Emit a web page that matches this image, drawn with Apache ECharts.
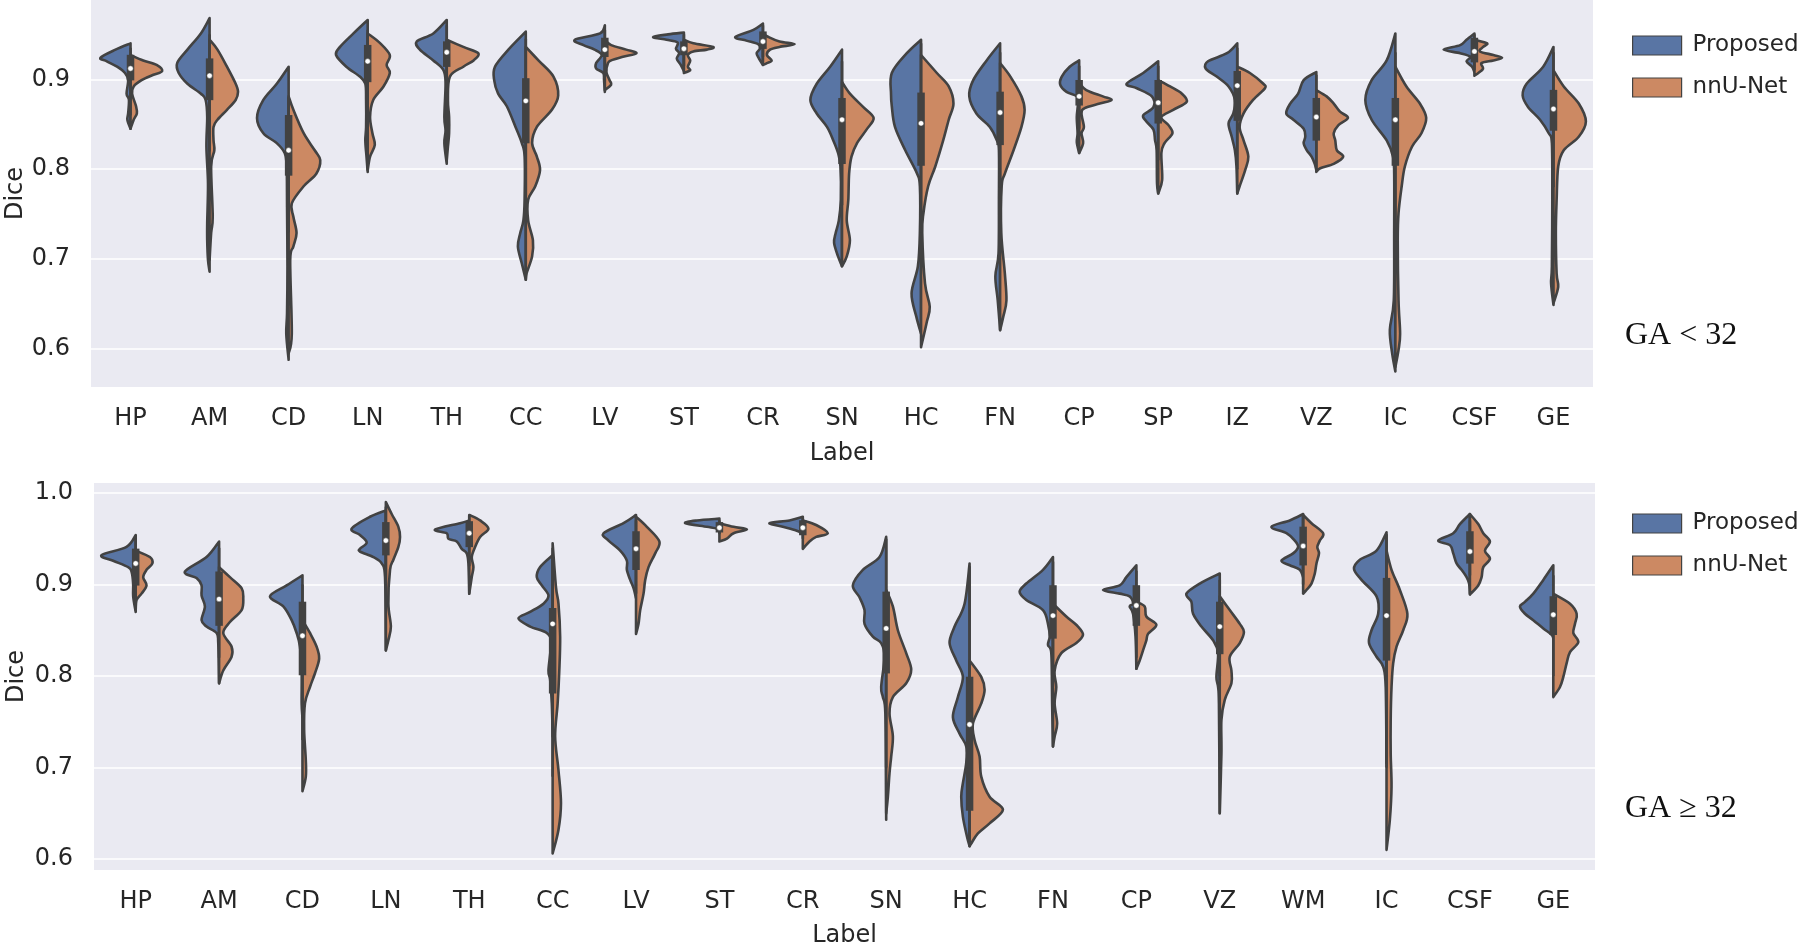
<!DOCTYPE html>
<html><head><meta charset="utf-8">
<script src="https://cdn.jsdelivr.net/npm/echarts@6/dist/echarts.min.js"></script>
<style>html,body{margin:0;padding:0;background:#fff}#c{width:1800px;height:944px}</style>
</head><body><div id="c"></div>
<script>
// ---------- DATA ----------
const topLabels = ['HP','AM','CD','LN','TH','CC','LV','ST','CR','SN','HC','FN','CP','SP','IZ','VZ','IC','CSF','GE'];
const bottomLabels = ['HP','AM','CD','LN','TH','CC','LV','ST','CR','SN','HC','FN','CP','VZ','WM','IC','CSF','GE'];
const topYTicks = [0.6, 0.7, 0.8, 0.9];
const bottomYTicks = [0.6, 0.7, 0.8, 0.9, 1.0];
const seriesNames = ['Proposed', 'nnU-Net'];
const panelTitles = ['GA < 32', 'GA \u2265 32'];

// half-violin outlines: [Dice value, half width in % of category band]
const topProposed = [
 [[0.940,0],[0.933,19],[0.924,38],[0.920,30],[0.914,17],[0.907,7],[0.899,3],[0.884,5],[0.877,2],[0.862,3],[0.855,4],[0.845,0]],
 [[0.968,0],[0.951,11],[0.933,28],[0.918,41],[0.907,39],[0.895,28],[0.884,11],[0.877,5],[0.858,3],[0.825,4],[0.784,2],[0.740,3],[0.721,3],[0.699,2],[0.686,0]],
 [[0.914,0],[0.895,15],[0.877,32],[0.857,40],[0.840,32],[0.829,15],[0.818,5],[0.803,2.5],[0.758,2],[0.692,1.5],[0.640,2],[0.617,3],[0.588,0]],
 [[0.966,0],[0.951,18],[0.936,35],[0.927,40],[0.914,27],[0.903,10],[0.895,3],[0.877,2],[0.847,2],[0.832,3],[0.814,1.5],[0.797,0]],
 [[0.966,0],[0.951,17],[0.942,38],[0.933,34],[0.921,17],[0.910,4],[0.895,1.5],[0.858,3],[0.843,1.5],[0.829,3],[0.806,0]],
 [[0.953,0],[0.933,22],[0.914,39],[0.899,40],[0.884,35],[0.870,24],[0.847,13],[0.829,5],[0.814,1.5],[0.766,1.5],[0.743,3],[0.729,7],[0.714,10],[0.695,5],[0.677,0]],
 [[0.960,0],[0.951,6],[0.944,38],[0.938,27],[0.933,13],[0.927,4],[0.918,11],[0.912,11],[0.907,2],[0.899,1],[0.886,0]],
 [[0.952,0],[0.950,20],[0.947,39],[0.944,22],[0.941,8],[0.934,10],[0.929,6],[0.923,9],[0.916,4],[0.909,0]],
 [[0.962,0],[0.955,12],[0.947,35],[0.943,21],[0.939,6],[0.934,4],[0.929,8],[0.923,5],[0.916,0]],
 [[0.933,0],[0.914,15],[0.895,32],[0.877,40],[0.862,32],[0.847,19],[0.832,11],[0.818,5],[0.803,2],[0.766,1.5],[0.743,4],[0.729,8],[0.718,10],[0.703,5],[0.692,0]],
 [[0.944,0],[0.929,18],[0.907,37],[0.884,38],[0.870,37],[0.847,33],[0.821,20],[0.795,5],[0.781,1.5],[0.729,1.5],[0.692,4],[0.662,12],[0.636,6],[0.617,0]],
 [[0.940,0],[0.921,17],[0.899,34],[0.881,39],[0.862,30],[0.847,13],[0.832,4],[0.821,1.5],[0.766,1.5],[0.706,2],[0.681,6],[0.654,3],[0.621,0]],
 [[0.921,0],[0.914,12],[0.903,22],[0.894,24],[0.886,16],[0.881,3],[0.873,1.5],[0.858,3],[0.840,2],[0.830,3],[0.818,0]],
 [[0.920,0],[0.907,19],[0.895,40],[0.890,27],[0.881,8],[0.869,6],[0.860,19],[0.853,15],[0.844,6],[0.832,4],[0.821,2],[0.784,1.5],[0.773,0]],
 [[0.940,0],[0.929,13],[0.920,37],[0.912,40],[0.903,26],[0.892,11],[0.877,3],[0.862,5],[0.851,11],[0.836,7],[0.821,3],[0.803,1],[0.773,0]],
 [[0.908,0],[0.899,16],[0.884,23],[0.873,33],[0.862,38],[0.855,29],[0.845,16],[0.836,14],[0.829,16],[0.821,12],[0.814,6],[0.806,2],[0.799,0]],
 [[0.951,0],[0.921,11],[0.899,30],[0.877,38],[0.855,30],[0.832,11],[0.814,3],[0.795,1.5],[0.729,1.5],[0.654,2],[0.621,7],[0.595,4],[0.575,0]],
 [[0.951,0],[0.944,10],[0.938,18],[0.933,39],[0.929,18],[0.925,5],[0.920,10],[0.914,3],[0.908,0]],
 [[0.936,0],[0.914,13],[0.895,34],[0.882,39],[0.869,32],[0.855,17],[0.840,6],[0.829,2],[0.766,1.5],[0.692,2],[0.673,3],[0.649,0]]
];
const topNnunet = [
 [[0.927,0],[0.921,16],[0.916,33],[0.909,40],[0.905,29],[0.899,14],[0.892,4],[0.884,2],[0.870,7],[0.862,8],[0.855,4],[0.845,0]],
 [[0.944,0],[0.933,10],[0.914,22],[0.895,33],[0.886,36],[0.877,33],[0.866,22],[0.855,10],[0.847,5],[0.832,5],[0.821,6],[0.803,2],[0.747,4],[0.729,2],[0.699,0]],
 [[0.881,0],[0.866,6],[0.840,19],[0.821,33],[0.810,40],[0.795,35],[0.781,19],[0.762,4],[0.747,6],[0.729,10],[0.714,6],[0.699,2],[0.617,4],[0.595,0]],
 [[0.951,0],[0.940,16],[0.927,28],[0.916,24],[0.907,28],[0.892,20],[0.877,7],[0.858,3],[0.840,6],[0.827,9],[0.814,3],[0.799,0]],
 [[0.944,0],[0.936,21],[0.929,40],[0.921,34],[0.914,21],[0.903,4],[0.877,1.5],[0.858,3],[0.840,3],[0.825,1.5],[0.810,0]],
 [[0.936,0],[0.921,16],[0.903,35],[0.882,41],[0.866,33],[0.847,14],[0.829,8],[0.814,14],[0.799,18],[0.781,12],[0.766,3],[0.743,3],[0.721,9],[0.703,8],[0.684,1],[0.677,0]],
 [[0.944,0],[0.938,8],[0.933,27],[0.929,40],[0.925,23],[0.921,8],[0.918,4],[0.908,2],[0.899,6],[0.894,8],[0.888,0]],
 [[0.944,0],[0.940,12],[0.936,37],[0.933,29],[0.931,12],[0.927,5],[0.921,8],[0.914,5],[0.910,8],[0.907,0]],
 [[0.951,0],[0.947,7],[0.942,21],[0.939,40],[0.936,21],[0.933,9],[0.927,5],[0.921,11],[0.918,5],[0.916,0]],
 [[0.897,0],[0.884,10],[0.869,27],[0.857,40],[0.844,31],[0.829,19],[0.814,12],[0.795,9],[0.766,8],[0.743,6],[0.721,10],[0.703,6],[0.692,0]],
 [[0.927,0],[0.907,20],[0.892,35],[0.873,41],[0.855,35],[0.832,28],[0.803,18],[0.781,9],[0.751,3],[0.729,1.5],[0.673,5],[0.647,11],[0.629,7],[0.602,0]],
 [[0.918,0],[0.903,13],[0.881,27],[0.866,31],[0.847,27],[0.821,17],[0.795,6],[0.781,2],[0.729,1.5],[0.684,6],[0.654,8],[0.636,4],[0.621,0]],
 [[0.896,0],[0.888,9],[0.881,30],[0.877,41],[0.873,26],[0.868,7],[0.862,3],[0.847,6],[0.840,3],[0.829,5],[0.818,0]],
 [[0.899,0],[0.892,15],[0.884,30],[0.875,36],[0.866,19],[0.858,4],[0.849,13],[0.840,18],[0.829,8],[0.818,4],[0.788,5],[0.773,0]],
 [[0.914,0],[0.907,16],[0.895,33],[0.890,35],[0.877,20],[0.862,8],[0.847,3],[0.832,8],[0.814,14],[0.799,10],[0.781,3],[0.773,0]],
 [[0.888,0],[0.881,13],[0.873,22],[0.864,30],[0.857,40],[0.849,28],[0.840,22],[0.832,24],[0.821,26],[0.814,34],[0.806,22],[0.801,5],[0.797,0]],
 [[0.914,0],[0.892,14],[0.873,31],[0.857,39],[0.840,33],[0.825,21],[0.803,12],[0.781,8],[0.751,4],[0.721,3],[0.654,4],[0.617,6],[0.599,4],[0.580,0]],
 [[0.944,0],[0.940,16],[0.936,11],[0.931,7],[0.927,24],[0.924,35],[0.921,24],[0.918,9],[0.912,11],[0.907,5],[0.904,0]],
 [[0.910,0],[0.892,13],[0.873,32],[0.853,41],[0.836,32],[0.821,13],[0.803,6],[0.766,4],[0.729,3],[0.684,4],[0.669,6],[0.651,0]]
];
// inner box (all data of a label): [lower whisker, Q1, median, Q3, upper whisker]
const topBox = [
 [0.860,0.901,0.912,0.925,0.935],[0.820,0.879,0.904,0.921,0.950],[0.730,0.795,0.821,0.858,0.880],
 [0.870,0.899,0.920,0.936,0.955],[0.885,0.916,0.930,0.940,0.960],[0.770,0.831,0.876,0.899,0.945],
 [0.905,0.927,0.933,0.944,0.955],[0.915,0.929,0.934,0.940,0.950],[0.925,0.936,0.942,0.951,0.960],
 [0.760,0.808,0.855,0.877,0.920],[0.730,0.806,0.851,0.883,0.940],[0.780,0.829,0.863,0.884,0.930],
 [0.845,0.873,0.881,0.897,0.915],[0.810,0.853,0.874,0.897,0.915],[0.800,0.856,0.893,0.907,0.935],
 [0.800,0.834,0.858,0.877,0.905],[0.720,0.806,0.855,0.877,0.930],[0.910,0.921,0.931,0.944,0.950],
 [0.780,0.845,0.867,0.886,0.930]
];

const bottomProposed = [
 [[0.954,0],[0.941,11],[0.932,41],[0.926,27],[0.919,9],[0.914,5],[0.901,3],[0.887,3],[0.870,0]],
 [[0.947,0],[0.930,15],[0.914,41],[0.907,27],[0.899,21],[0.888,21],[0.876,17],[0.861,21],[0.854,15],[0.847,3],[0.836,1],[0.792,0]],
 [[0.910,0],[0.899,19],[0.887,39],[0.876,23],[0.861,13],[0.847,7],[0.832,3],[0.806,1],[0.770,1],[0.755,0]],
 [[0.981,0],[0.974,19],[0.961,41],[0.954,31],[0.946,23],[0.939,31],[0.936,31],[0.930,15],[0.923,5],[0.908,1],[0.828,0]],
 [[0.970,0],[0.967,11],[0.960,41],[0.956,27],[0.950,25],[0.947,15],[0.939,9],[0.934,3],[0.923,1],[0.890,0]],
 [[0.932,0],[0.919,15],[0.908,19],[0.899,13],[0.888,5],[0.879,11],[0.870,27],[0.863,41],[0.854,27],[0.847,7],[0.836,2],[0.806,5],[0.796,3],[0.770,1],[0.734,0]],
 [[0.976,0],[0.967,15],[0.956,39],[0.948,33],[0.937,19],[0.926,11],[0.916,11],[0.905,7],[0.896,3],[0.885,0]],
 [[0.972,0],[0.970,27],[0.967,41],[0.963,15],[0.961,3],[0.959,0]],
 [[0.974,0],[0.970,16],[0.967,40],[0.963,24],[0.959,8],[0.956,0]],
 [[0.952,0],[0.930,8],[0.916,28],[0.899,40],[0.886,32],[0.872,26],[0.857,26],[0.843,16],[0.836,6],[0.821,2],[0.788,6],[0.777,4],[0.759,1],[0.643,0]],
 [[0.923,0],[0.879,6],[0.854,18],[0.836,24],[0.817,16],[0.799,8],[0.777,14],[0.755,20],[0.737,12],[0.723,4],[0.705,4],[0.683,8],[0.668,10],[0.646,8],[0.624,3],[0.614,0]],
 [[0.930,0],[0.916,12],[0.901,32],[0.892,40],[0.883,32],[0.872,12],[0.857,6],[0.843,4],[0.834,6],[0.825,2],[0.770,1],[0.723,0]],
 [[0.921,0],[0.908,12],[0.899,20],[0.894,40],[0.890,20],[0.887,8],[0.879,4],[0.876,8],[0.868,4],[0.843,1],[0.808,0]],
 [[0.912,0],[0.901,24],[0.890,40],[0.881,34],[0.868,32],[0.854,22],[0.839,8],[0.825,2],[0.799,4],[0.788,2],[0.770,1],[0.650,0]],
 [[0.977,0],[0.970,16],[0.963,38],[0.956,20],[0.948,10],[0.941,6],[0.934,12],[0.926,26],[0.921,16],[0.916,4],[0.908,0]],
 [[0.957,0],[0.937,12],[0.927,32],[0.917,39],[0.905,30],[0.887,12],[0.868,10],[0.850,18],[0.836,21],[0.821,12],[0.810,4],[0.788,1],[0.705,0]],
 [[0.977,0],[0.966,12],[0.956,20],[0.948,38],[0.943,24],[0.934,20],[0.923,16],[0.916,10],[0.908,4],[0.901,1],[0.890,0]],
 [[0.921,0],[0.905,12],[0.890,24],[0.881,34],[0.876,40],[0.868,34],[0.861,24],[0.852,12],[0.845,2],[0.841,0]]
];
const bottomNnunet = [
 [[0.937,0],[0.930,17],[0.923,20],[0.916,13],[0.908,9],[0.899,13],[0.890,7],[0.883,1],[0.872,0]],
 [[0.919,0],[0.908,13],[0.896,27],[0.885,29],[0.872,27],[0.859,13],[0.847,5],[0.832,15],[0.821,15],[0.806,5],[0.792,0]],
 [[0.861,0],[0.847,9],[0.832,17],[0.819,20],[0.803,15],[0.788,9],[0.770,3],[0.741,2],[0.708,4],[0.690,4],[0.674,0]],
 [[0.990,0],[0.977,7],[0.963,15],[0.952,17],[0.941,15],[0.927,9],[0.916,5],[0.879,3],[0.854,6],[0.839,3],[0.828,0]],
 [[0.976,0],[0.970,13],[0.961,23],[0.952,13],[0.941,7],[0.930,3],[0.919,5],[0.908,3],[0.890,0]],
 [[0.945,0],[0.897,4],[0.879,7],[0.843,9],[0.806,8],[0.770,6],[0.734,3],[0.697,7],[0.661,10],[0.632,7],[0.606,0]],
 [[0.974,0],[0.963,13],[0.947,28],[0.934,23],[0.919,15],[0.905,11],[0.890,9],[0.872,5],[0.857,3],[0.846,0]],
 [[0.967,0],[0.963,17],[0.960,33],[0.956,17],[0.950,9],[0.947,0]],
 [[0.970,0],[0.965,16],[0.956,30],[0.952,16],[0.947,8],[0.939,0]],
 [[0.894,0],[0.876,8],[0.850,14],[0.825,24],[0.807,30],[0.792,24],[0.777,8],[0.759,4],[0.734,8],[0.712,6],[0.694,4],[0.668,2],[0.650,0]],
 [[0.817,0],[0.799,14],[0.785,18],[0.770,14],[0.748,4],[0.730,6],[0.712,12],[0.690,14],[0.668,24],[0.654,40],[0.639,24],[0.628,10],[0.617,2],[0.614,0]],
 [[0.879,0],[0.865,16],[0.854,30],[0.845,36],[0.836,28],[0.825,10],[0.806,2],[0.788,4],[0.770,2],[0.748,5],[0.734,2],[0.723,0]],
 [[0.881,0],[0.876,10],[0.865,12],[0.856,24],[0.846,14],[0.839,12],[0.828,8],[0.817,4],[0.808,0]],
 [[0.887,0],[0.872,12],[0.857,24],[0.848,29],[0.836,24],[0.821,12],[0.806,14],[0.792,14],[0.774,6],[0.752,2],[0.715,2],[0.650,0]],
 [[0.976,0],[0.967,10],[0.956,24],[0.948,20],[0.941,17],[0.934,19],[0.923,16],[0.912,14],[0.901,10],[0.894,4],[0.890,0]],
 [[0.937,0],[0.916,6],[0.894,16],[0.868,25],[0.850,20],[0.832,12],[0.814,8],[0.788,6],[0.752,5],[0.715,5],[0.679,6],[0.643,4],[0.610,0]],
 [[0.977,0],[0.966,10],[0.956,16],[0.947,24],[0.937,18],[0.928,24],[0.919,16],[0.908,14],[0.899,10],[0.889,0]],
 [[0.890,0],[0.879,20],[0.868,28],[0.857,26],[0.847,24],[0.837,30],[0.826,20],[0.814,16],[0.799,12],[0.788,8],[0.777,0]]
];
const bottomBox = [
 [0.885,0.901,0.923,0.937,0.950],[0.820,0.857,0.884,0.912,0.940],[0.730,0.803,0.844,0.879,0.900],
 [0.900,0.934,0.948,0.966,0.985],[0.920,0.943,0.956,0.967,0.975],[0.690,0.783,0.857,0.872,0.940],
 [0.890,0.918,0.939,0.956,0.970],[0.955,0.959,0.962,0.966,0.970],[0.950,0.956,0.962,0.968,0.972],
 [0.700,0.805,0.852,0.890,0.950],[0.615,0.655,0.747,0.797,0.920],[0.810,0.843,0.866,0.897,0.925],
 [0.820,0.857,0.877,0.897,0.915],[0.800,0.826,0.854,0.879,0.905],[0.900,0.923,0.942,0.961,0.975],
 [0.700,0.819,0.866,0.905,0.955],[0.910,0.925,0.936,0.956,0.970],[0.800,0.847,0.867,0.885,0.910]
];

// ---------- STYLE / RENDERING ----------
const BLUE = '#5975a4', ORANGE = '#cc8963', GRAY = '#424242', TXT = '#262626';
const FONT = '"DejaVu Sans", sans-serif';
const LW = 2.6;

function halfPath(profile, side, api, cat) {
  const band = api.size([1, 0])[0];
  const cx = api.coord([cat, profile[0][0]])[0];
  const pts = profile.map(function (p) {
    const c = api.coord([cat, p[0]]);
    return [cx + side * p[1] / 100 * band, c[1]];
  });
  const n = pts.length;
  let d = 'M' + cx + ' ' + pts[0][1];
  for (let i = 0; i < n - 1; i++) {
    const p0 = pts[Math.max(i - 1, 0)], p1 = pts[i], p2 = pts[i + 1], p3 = pts[Math.min(i + 2, n - 1)];
    let c1x = p1[0] + (p2[0] - p0[0]) / 6, c1y = p1[1] + (p2[1] - p0[1]) / 6;
    let c2x = p2[0] - (p3[0] - p1[0]) / 6, c2y = p2[1] - (p3[1] - p1[1]) / 6;
    if (side < 0) { c1x = Math.min(c1x, cx); c2x = Math.min(c2x, cx); }
    else { c1x = Math.max(c1x, cx); c2x = Math.max(c2x, cx); }
    c1y = Math.min(Math.max(c1y, p1[1]), p2[1]);
    c2y = Math.min(Math.max(c2y, p1[1]), p2[1]);
    d += ' C' + c1x + ' ' + c1y + ' ' + c2x + ' ' + c2y + ' ' + p2[0] + ' ' + p2[1];
  }
  d += ' L' + cx + ' ' + pts[0][1] + ' Z';
  return d;
}

function violinSeries(name, profiles, side, color, g) {
  return {
    type: 'custom', name: name, xAxisIndex: g, yAxisIndex: g,
    itemStyle: { color: color },
    data: profiles.map(function (p, i) { return [i, p[0][0], p[p.length - 1][0]]; }),
    encode: { x: 0, y: [1, 2] },
    renderItem: function (params, api) {
      const cat = api.value(0);
      return {
        type: 'path',
        shape: { pathData: halfPath(profiles[params.dataIndex], side, api, cat) },
        style: { fill: color, stroke: GRAY, lineWidth: LW, lineJoin: 'round' }
      };
    },
    z: 2
  };
}

function boxSeries(box, g) {
  return {
    type: 'custom', name: 'box', xAxisIndex: g, yAxisIndex: g,
    data: box.map(function (b, i) { return [i].concat(b); }),
    encode: { x: 0, y: [1, 5] },
    renderItem: function (params, api) {
      const c = api.value(0);
      const lo = api.coord([c, api.value(1)]), q1 = api.coord([c, api.value(2)]),
            md = api.coord([c, api.value(3)]), q3 = api.coord([c, api.value(4)]),
            hi = api.coord([c, api.value(5)]);
      return { type: 'group', children: [
        { type: 'line', shape: { x1: lo[0], y1: lo[1], x2: hi[0], y2: hi[1] }, style: { stroke: GRAY, lineWidth: LW } },
        { type: 'line', shape: { x1: q1[0], y1: q1[1] + 2, x2: q3[0], y2: q3[1] - 2 }, style: { stroke: GRAY, lineWidth: 7.5 } },
        { type: 'circle', shape: { cx: md[0], cy: md[1], r: 2.7 }, style: { fill: '#fff', stroke: GRAY, lineWidth: 0.5 } }
      ]};
    },
    z: 3
  };
}

function yAxis(g, min, max, ticks, gap) {
  return {
    gridIndex: g, type: 'value', min: min, max: max,
    name: 'Dice', nameLocation: 'middle', nameGap: gap, nameMoveOverlap: false,
    nameTextStyle: { fontSize: 24, color: TXT, fontFamily: FONT },
    axisLine: { show: false },
    axisTick: { show: false, customValues: ticks },
    axisLabel: { customValues: ticks, fontSize: 24, color: TXT, fontFamily: FONT, margin: 21,
                 formatter: function (v) { return v.toFixed(1); } },
    splitLine: { show: true, lineStyle: { color: '#ffffff', width: 1.6 } }
  };
}
function xAxis(g, labels, gap) {
  return {
    gridIndex: g, type: 'category', data: labels,
    name: 'Label', nameLocation: 'middle', nameGap: gap, nameMoveOverlap: false,
    nameTextStyle: { fontSize: 24, color: TXT, fontFamily: FONT },
    axisLine: { show: false }, axisTick: { show: false },
    axisLabel: { fontSize: 24, color: TXT, fontFamily: FONT, margin: 20 },
    splitLine: { show: false }
  };
}
function legend(top) {
  return {
    data: seriesNames, orient: 'vertical', left: 1627, top: top,
    itemWidth: 49, itemHeight: 19, itemGap: 19, icon: 'rect', selectedMode: false,
    itemStyle: { borderColor: GRAY, borderWidth: 1.2 },
    textStyle: { fontSize: 23, color: TXT, fontFamily: FONT, padding: [0, 0, 0, 6] }
  };
}

const chart = echarts.init(document.getElementById('c'), null, { renderer: 'canvas' });
chart.setOption({
  animation: false,
  backgroundColor: '#ffffff',
  grid: [
    { left: 91, top: 0, width: 1502, height: 387, show: true, backgroundColor: '#EAEAF2', borderWidth: 0, outerBoundsMode: 'none', containLabel: false },
    { left: 94, top: 483, width: 1501, height: 387, show: true, backgroundColor: '#EAEAF2', borderWidth: 0, outerBoundsMode: 'none', containLabel: false }
  ],
  xAxis: [xAxis(0, topLabels, 55), xAxis(1, bottomLabels, 54)],
  yAxis: [yAxis(0, 0.5577, 0.9882, topYTicks, 63), yAxis(1, 0.588, 1.0109, bottomYTicks, 65)],
  legend: [legend(29), legend(507)],
  graphic: [
    { type: 'text', left: 1625, top: 320, style: { text: panelTitles[0], font: '32px "Liberation Serif", serif', fill: '#111' } },
    { type: 'text', left: 1625, top: 793, style: { text: panelTitles[1], font: '32px "Liberation Serif", serif', fill: '#111' } }
  ],
  series: [
    violinSeries(seriesNames[0], topProposed, -1, BLUE, 0),
    violinSeries(seriesNames[1], topNnunet, 1, ORANGE, 0),
    boxSeries(topBox, 0),
    violinSeries(seriesNames[0], bottomProposed, -1, BLUE, 1),
    violinSeries(seriesNames[1], bottomNnunet, 1, ORANGE, 1),
    boxSeries(bottomBox, 1)
  ]
});
</script>
</body></html>
